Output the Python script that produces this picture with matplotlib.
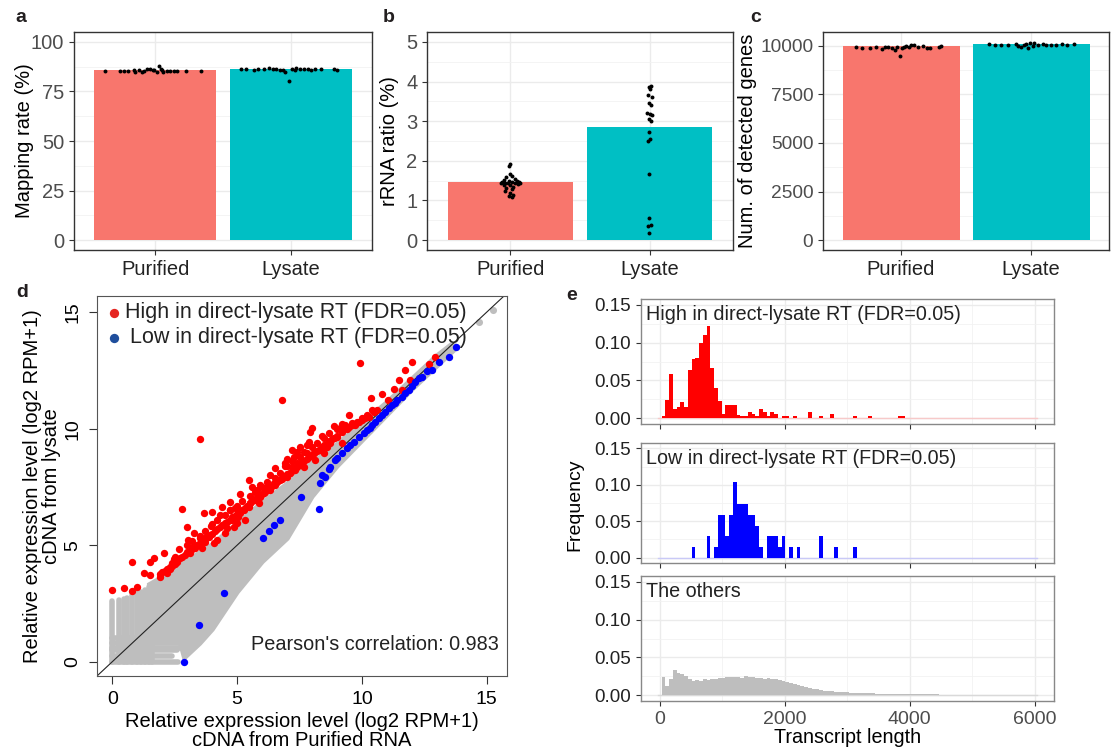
import matplotlib
matplotlib.use('Agg')
import matplotlib.pyplot as plt
from matplotlib.ticker import MultipleLocator, FormatStrFormatter
import numpy as np

plt.rcParams['font.family'] = ['Liberation Sans', 'DejaVu Sans']

# ---- panels a-c : per-sample values ----
groups = ['Purified', 'Lysate']
bar_cols = ['#F8766D', '#00BFC4']

map_bar = [85.8, 86.5]
map_pur_off = [-0.37, -0.26, -0.23, -0.20, -0.16, -0.15, -0.12, -0.10, -0.08, -0.06, -0.04, -0.02,
               -0.01, 0.01, 0.03, 0.04, 0.05, 0.06, 0.09, 0.11, 0.14, 0.16, 0.23, 0.34]
map_pur_val = [85.3, 85.3, 85.2, 85.4, 85.7, 84.8, 86.0, 85.0, 85.3, 86.2, 86.5, 85.7,
               86.0, 85.0, 88.0, 86.4, 85.7, 85.0, 85.3, 85.3, 85.2, 85.4, 85.3, 85.3]
map_lys_off = [-0.37, -0.33, -0.27, -0.24, -0.20, -0.16, -0.13, -0.11, -0.08, -0.06, -0.04, -0.01,
               0.01, 0.03, 0.04, 0.07, 0.10, 0.13, 0.15, 0.18, 0.22, 0.32, 0.34]
map_lys_val = [86.3, 86.5, 86.0, 86.1, 86.5, 86.6, 86.5, 86.1, 86.0, 85.6, 84.9, 80.1,
               86.5, 85.6, 86.8, 86.5, 86.5, 86.5, 86.0, 86.1, 86.5, 86.3, 86.0]

rrna_bar = [1.46, 2.86]
rrna_pur_off = [0.00, -0.01, 0.00, 0.01, -0.03, 0.03, -0.05, -0.01, 0.045, -0.06, 0.01, -0.04, 0.03,
                -0.02, 0.057, 0.00, -0.05, 0.02, -0.03, 0.01, -0.04, 0.00, 0.02, -0.01, 0.01, 0.06, -0.07, 0.07]
rrna_pur_val = [1.93, 1.87, 1.68, 1.62, 1.58, 1.55, 1.52, 1.50, 1.48, 1.47, 1.46, 1.45, 1.44,
                1.43, 1.42, 1.40, 1.38, 1.35, 1.32, 1.28, 1.25, 1.20, 1.15, 1.10, 1.08, 1.47, 1.45, 1.44]
rrna_lys_off = [0.012, -0.007, 0.005, -0.012, 0.017, -0.002, 0.012, -0.019, 0.005, 0.017,
                -0.002, 0.012, -0.007, 0.005, -0.012, -0.007, -0.007, 0.007, -0.012, -0.007]
rrna_lys_val = [3.88, 3.85, 3.82, 3.65, 3.62, 3.45, 3.40, 3.20, 3.18, 3.15,
                3.05, 3.00, 2.72, 2.55, 2.50, 1.68, 0.55, 0.38, 0.35, 0.17]

gene_bar = [9966, 10103]
gene_pur_off = [-0.345, -0.30, -0.24, -0.19, -0.15, -0.12, -0.10, -0.07, -0.05, -0.03, -0.01, 0.005,
                0.02, 0.04, 0.06, 0.08, 0.10, 0.13, 0.17, 0.20, 0.22, 0.29, 0.31]
gene_pur_val = [9930, 9880, 9900, 9950, 9850, 9960, 9920, 9870, 9780, 9950, 9500, 9880,
                9950, 10000, 9920, 10020, 10050, 9950, 9980, 9870, 9900, 9950, 9990]
gene_lys_off = [-0.32, -0.28, -0.23, -0.18, -0.115, -0.10, -0.077, -0.056, -0.04, -0.02, -0.005,
                0.013, 0.026, 0.05, 0.09, 0.115, 0.15, 0.19, 0.24, 0.28, 0.33]
gene_lys_val = [10070, 10060, 10050, 10040, 10080, 10000, 9950, 10030, 10100, 9870, 10120,
                10000, 10150, 10050, 10080, 10040, 10060, 10040, 10070, 10060, 10080]

# ---- panel d : scatter ----
red_x = [0.0, 0.47, 0.8, 1.0, 0.8, 1.27, 1.53, 1.53, 1.69, 1.93, 2.09, 2.2, 2.33, 2.4, 2.47, 2.67, 2.8, 3.0,
         3.04, 3.13, 3.24, 3.27, 3.51, 3.53, 3.6, 3.69, 3.73, 3.87, 3.96, 4.0, 4.07, 4.2, 4.4, 4.53, 4.6,
         4.71, 4.73, 4.8, 4.87, 5.0, 5.03, 5.13, 5.27, 5.33, 5.47, 5.47, 5.53, 5.67, 5.8, 5.87, 5.93, 6.07,
         6.2, 6.33, 6.47, 6.6, 6.8, 6.87, 6.93, 7.0, 7.13, 7.2, 7.2, 7.27, 7.33, 7.4, 7.53, 7.6, 7.67, 7.8,
         7.87, 7.93, 8.0, 8.07, 8.13, 8.33, 8.47, 8.6, 8.73, 8.87, 9.0, 9.13, 9.2, 9.33, 9.47, 9.6, 9.73,
         9.87, 9.93, 10.0, 10.13, 10.27, 10.36, 10.4, 10.47, 10.6, 11.03, 11.27, 11.6, 11.73, 11.91, 12.0,
         12.67, 12.93,
         1.9, 2.0, 2.1, 2.2, 2.3, 2.4, 2.5, 2.6, 2.7, 2.8, 2.9, 3.0, 3.1, 3.2, 3.3, 3.4, 3.5, 3.6, 3.7, 3.8,
         3.9, 4.0, 4.1, 4.2, 4.3, 4.4, 4.5, 4.6, 4.7, 4.8, 4.9, 5.0, 5.1, 5.2, 5.3, 5.4, 5.5, 5.6, 5.7, 5.8,
         5.9, 6.0, 6.1, 6.2, 6.3, 6.4, 6.5, 6.6, 6.7, 6.8, 6.9, 7.0, 7.1, 7.2, 7.3, 7.4, 7.5, 7.6, 7.7, 7.8,
         7.9, 8.0, 8.1, 8.2, 8.3, 8.4, 8.5, 8.6, 8.7, 8.8, 8.9, 9.0, 9.2, 9.4, 9.6, 9.8, 10.0, 10.2,
         2.5, 3.0, 3.5, 4.0, 4.5, 5.0, 5.5, 6.0, 6.5, 7.0, 7.5, 8.0, 8.5, 9.0,
         3.2, 3.7, 4.2, 4.7, 5.2, 5.7, 6.2, 6.7, 7.2, 7.7, 8.2, 8.7, 9.2,
         4.3, 5.1, 5.9, 6.5, 7.4, 8.4, 6.3, 7.0, 4.9, 5.6, 6.9, 7.8, 8.9, 9.5, 10.8, 11.5]
red_y = [3.1, 3.15, 3.03, 3.2, 4.26, 3.79, 3.72, 4.29, 4.46, 3.65, 4.65, 3.79, 4.0, 4.22, 4.39, 4.84, 6.55, 5.77,
         5.22, 4.65, 4.94, 5.51, 9.56, 5.29, 4.86, 6.37, 5.15, 5.36, 5.82, 6.44, 5.08, 5.22, 6.65, 5.51, 5.72,
         6.87, 6.51, 6.08, 5.79, 5.94, 6.22, 6.37, 6.51, 6.08, 7.8, 6.65, 6.8, 6.94, 7.37, 6.8, 7.08, 7.22,
         7.51, 7.37, 7.65, 7.8, 11.23, 7.94, 8.51, 7.94, 8.08, 9.08, 8.37, 8.8, 8.23, 8.51, 9.23, 8.65, 8.37, 8.94,
         9.44, 9.87, 10.01, 8.94, 8.65, 9.08, 8.94, 9.23, 9.37, 9.59, 9.66, 10.01, 9.37, 10.16, 10.09, 10.23, 10.16,
         10.3, 12.8, 10.37, 10.44, 10.52, 11.33, 10.8, 10.73, 10.8, 11.23, 11.69, 11.66, 12.52, 12.09, 12.85,
         12.76, 13.09,
         3.75, 3.85, 3.9, 4.0, 4.05, 4.1, 4.2, 4.3, 4.45, 4.5, 4.6, 4.7, 4.75, 4.85, 4.9, 5.0, 5.1, 5.15, 5.3, 5.35,
         5.45, 5.5, 5.6, 5.7, 5.8, 5.85, 5.95, 6.0, 6.1, 6.2, 6.25, 6.35, 6.45, 6.5, 6.6, 6.7, 6.8, 6.9, 6.95, 7.05,
         7.1, 7.2, 7.3, 7.35, 7.45, 7.55, 7.6, 7.7, 7.8, 7.85, 7.95, 8.05, 8.1, 8.2, 8.3, 8.35, 8.45, 8.55, 8.6, 8.7,
         8.8, 8.85, 8.95, 9.05, 9.1, 9.2, 9.3, 9.35, 9.45, 9.55, 9.6, 9.7, 9.85, 10.0, 10.15, 10.3, 10.45, 10.6,
         4.5, 5.0, 5.4, 5.9, 6.3, 6.7, 7.1, 7.5, 7.9, 8.4, 8.8, 9.2, 9.6, 10.0,
         5.2, 5.6, 6.1, 6.5, 6.9, 7.3, 7.7, 8.1, 8.6, 9.0, 9.4, 9.8, 10.2,
         6.3, 7.2, 7.6, 8.3, 9.0, 9.7, 8.0, 8.7, 6.6, 7.5, 8.4, 9.3, 10.1, 10.6, 11.5, 12.1]

blue_x = [2.87, 3.47, 4.47, 6.04, 6.27, 6.49, 6.71, 7.56, 8.27, 8.31, 8.4, 8.53, 8.67, 8.73, 8.93, 9.0, 9.2, 9.4,
          9.53, 9.67, 9.87, 10.07, 10.2, 10.33, 10.4, 10.53, 10.67, 10.8, 10.93, 11.07, 11.2, 11.33, 11.4, 11.6,
          11.73, 11.87, 12.0, 12.13, 12.27, 12.4, 12.6, 12.8, 13.07, 13.47, 13.77]
blue_y = [0.0, 1.57, 2.96, 5.32, 5.62, 5.87, 6.08, 7.08, 6.54, 7.68, 8.0, 7.94, 8.25, 8.37, 8.66, 8.73, 8.94, 9.16,
          9.3, 9.44, 9.66, 9.8, 9.94, 10.01, 10.16, 10.3, 10.44, 10.59, 10.73, 10.87, 11.02, 11.09, 11.23, 11.37,
          11.52, 11.66, 11.83, 12.02, 12.16, 12.23, 12.49, 12.52, 12.88, 13.09, 13.52]

grey_pts_x = [12.73, 14.67, 15.24]
grey_pts_y = [12.73, 14.56, 15.09]

# outline of the dense grey cloud of the other genes
cloud_x = [1.5, 1.5, 2.0, 3.0, 4.0, 5.0, 6.0, 7.0, 8.0, 9.0, 10.0, 11.0, 12.0, 13.0, 13.6, 13.8,
           13.0, 12.0, 11.0, 10.0, 9.0, 8.0, 7.5, 7.0, 6.0, 5.0, 4.5, 4.0, 3.5, 3.1, 2.9, 2.7, 1.5]
cloud_y = [1.0, 3.3, 3.6, 4.3, 5.0, 5.9, 6.8, 7.6, 8.5, 9.3, 10.2, 11.1, 12.1, 13.1, 13.6, 13.5,
           12.7, 11.7, 10.6, 9.5, 8.4, 7.1, 6.2, 5.3, 4.3, 3.0, 2.2, 1.4, 0.8, 0.4, 0.2, 1.0, 1.0]
vstripe_x = [0.0, 0.26, 0.49, 0.58, 0.81, 1.0, 1.17, 1.32, 1.46, 1.58]
vstripe_top = [2.6, 2.65, 2.7, 2.75, 2.85, 2.95, 3.0, 3.1, 3.2, 3.3]
hstripe_y = [0.0, 0.26, 0.49, 0.58, 0.81, 1.0]
hstripe_end = [2.65, 2.4, 2.6, 2.7, 2.8, 2.9]

# ---- panel e : length histograms (bin width 60, centres 0..6000) ----
hist_k_high = list(range(1, 32)) + [33, 34, 36, 40, 43, 46, 52, 56, 64, 65]
hist_f_high = [0.003, 0.024, 0.058, 0.012, 0.015, 0.021, 0.015, 0.064, 0.078, 0.080, 0.100, 0.110, 0.122,
               0.067, 0.040, 0.023, 0.006, 0.018, 0.018, 0.018, 0.005, 0.003, 0.003, 0.009, 0.006, 0.003,
               0.012, 0.009, 0.003, 0.009, 0.006, 0.003, 0.003, 0.003, 0.009, 0.003, 0.006, 0.003, 0.003,
               0.003, 0.003]
hist_k_low = [9, 13, 15, 16, 17, 18, 19, 20, 21, 22, 23, 24, 25, 26, 27, 29, 30, 31, 32, 33, 35, 37, 43, 47, 52]
hist_f_low = [0.015, 0.029, 0.015, 0.059, 0.059, 0.029, 0.059, 0.104, 0.074, 0.074, 0.074, 0.059, 0.059,
              0.044, 0.015, 0.029, 0.029, 0.029, 0.015, 0.029, 0.015, 0.015, 0.029, 0.015, 0.015]
hist_f_other = [0.0, 0.024, 0.012, 0.022, 0.034, 0.030, 0.028, 0.025, 0.022, 0.019, 0.020,
                0.019, 0.021, 0.020, 0.021, 0.022, 0.023, 0.0235, 0.024, 0.024, 0.024,
                0.024, 0.0235, 0.025, 0.024, 0.024, 0.023, 0.0235, 0.022, 0.0225, 0.0215,
                0.021, 0.020, 0.019, 0.018, 0.0165, 0.015, 0.0135, 0.0125, 0.011, 0.0098,
                0.0088, 0.008, 0.007, 0.0062, 0.0058, 0.0053, 0.0049, 0.0044, 0.004, 0.004,
                0.0035, 0.0033, 0.003, 0.003, 0.0028, 0.0026, 0.0025, 0.0023, 0.0022, 0.002,
                0.002, 0.0019, 0.0018, 0.0017, 0.0016, 0.0016, 0.0015, 0.0014, 0.0014, 0.0013,
                0.0012, 0.0012, 0.0011, 0.0011, 0.001, 0.001, 0.0009, 0.0009, 0.0009, 0.0008,
                0.0008, 0.0008, 0.0007, 0.0007, 0.0007, 0.0006, 0.0006, 0.0006, 0.0006, 0.0005,
                0.0005, 0.0005, 0.0005, 0.0005, 0.0005, 0.0005, 0.0005, 0.0005, 0.0005, 0.0005]
binw = 60

W, H = 1112, 755
fig = plt.figure(figsize=(W / 100, H / 100), dpi=100)


def px_axes(x0, y0, x1, y1):
    return fig.add_axes([x0 / W, 1 - y1 / H, (x1 - x0) / W, (y1 - y0) / H])


def gg_style(ax):
    ax.set_facecolor('white')
    for s in ax.spines.values():
        s.set_color('#333333')
        s.set_linewidth(1.0)
    ax.grid(True, which='major', color='#EBEBEB', lw=1.0, zorder=0)
    ax.grid(True, which='minor', color='#F2F2F2', lw=0.6, zorder=0)
    ax.set_axisbelow(True)
    ax.tick_params(colors='#333333', length=3.5, width=0.8)
    ax.tick_params(which='minor', length=0)


def bar_panel(ax, bars, pur, lys, ylim, ystep, ylabel, label_x, ysize=14.5):
    gg_style(ax)
    xs = np.arange(1, 3)
    ax.bar(xs, bars, width=0.9, color=bar_cols, zorder=2)
    ax.scatter(1 + np.array(pur[0]), pur[1], s=8, color='black', zorder=3, lw=0)
    ax.scatter(2 + np.array(lys[0]), lys[1], s=8, color='black', zorder=3, lw=0)
    ax.set_xlim(0.4, 2.6)
    ax.set_ylim(*ylim)
    ax.set_xticks(xs)
    ax.set_xticklabels(groups, fontsize=14.5, color='#222222')
    ax.yaxis.set_major_locator(MultipleLocator(ystep))
    ax.yaxis.set_minor_locator(MultipleLocator(ystep / 2))
    ax.tick_params(axis='y', labelsize=ysize, labelcolor='#4D4D4D')
    ax.set_ylabel(ylabel, fontsize=14.5)
    ax.yaxis.set_label_coords(label_x, 0.5)


axa = px_axes(74, 32, 372, 250)
bar_panel(axa, map_bar, (map_pur_off, map_pur_val), (map_lys_off, map_lys_val),
          (-5, 105), 25, 'Mapping rate (%)', -0.135)
axb = px_axes(427, 32, 733, 250)
bar_panel(axb, rrna_bar, (rrna_pur_off, rrna_pur_val), (rrna_lys_off, rrna_lys_val),
          (-0.25, 5.25), 1, 'rRNA ratio (%)', -0.09)
axc = px_axes(823, 32, 1109, 250)
bar_panel(axc, gene_bar, (gene_pur_off, gene_pur_val), (gene_lys_off, gene_lys_val),
          (-510, 10710), 2500, 'Num. of detected genes', -0.232, ysize=13.8)

# ---- d ----
axd = px_axes(97, 296, 507, 676)
grey = '#BEBEBE'
axd.fill(cloud_x, cloud_y, color=grey, lw=4, ec=grey, zorder=1)
for x, t in zip(vstripe_x, vstripe_top):
    axd.plot([x, x], [0, t], color=grey, lw=4, solid_capstyle='round', zorder=1)
for y, e in zip(hstripe_y, hstripe_end):
    axd.plot([0, e], [y, y], color=grey, lw=4, solid_capstyle='round', zorder=1)
axd.scatter(grey_pts_x, grey_pts_y, s=26, color=grey, lw=0, zorder=1)
axd.axline((0, 0), (1, 1), color='#222222', lw=0.8, zorder=2)
axd.scatter(red_x, red_y, s=28, color='#FF0000', lw=0, zorder=3)
axd.scatter(blue_x, blue_y, s=28, color='#0000FF', lw=0, zorder=3)
axd.set_xlim(-0.61, 15.81)
axd.set_ylim(-0.61, 15.69)
axd.set_xticks([0, 5, 10, 15])
axd.set_yticks([0, 5, 10, 15])
axd.tick_params(labelsize=14, length=6, width=0.8, color='#333333', pad=5)
plt.setp(axd.get_yticklabels(), rotation=90, va='center')
for s in axd.spines.values():
    s.set_color('#555555')
axd.set_xlabel('Relative expression level (log2 RPM+1)\ncDNA from Purified RNA',
               fontsize=14.5, linespacing=0.95, labelpad=3)
axd.set_ylabel('Relative expression level (log2 RPM+1)\ncDNA from lysate',
               fontsize=14.5, linespacing=0.95, labelpad=3)
axd.scatter([0.06], [14.98], s=45, color='#E52521', lw=0)
axd.scatter([0.06], [13.9], s=45, color='#1F4E9C', lw=0)
axd.text(0.5, 14.98, 'High in direct-lysate RT (FDR=0.05)', fontsize=15.5, va='center', color='#222222')
axd.text(0.73, 13.9, 'Low in direct-lysate RT (FDR=0.05)', fontsize=15.5, va='center', color='#222222')
axd.text(15.5, 0.75, "Pearson's correlation: 0.983", fontsize=14.3, ha='right', va='center',
         color='#222222')

# ---- e ----
centres = np.arange(0, 6001, binw)
hist_defs = [
    ((641, 299, 1054, 424), hist_k_high, hist_f_high, '#FF0000', '#F7C9C9',
     'High in direct-lysate RT (FDR=0.05)'),
    ((641, 443, 1054, 563), hist_k_low, hist_f_low, '#0000FF', '#C9C9F7',
     'Low in direct-lysate RT (FDR=0.05)'),
    ((641, 576, 1054, 701), list(range(len(hist_f_other))), hist_f_other, '#BEBEBE', '#D9D9D9',
     'The others'),
]
e_axes = []
for rect, ks, fs, col, light, title in hist_defs:
    ax = px_axes(*rect)
    gg_style(ax)
    ax.plot([centres[0] - binw / 2, centres[-1] + binw / 2], [0, 0], color=light, lw=1.0, zorder=2)
    ax.bar(centres[np.array(ks)], fs, width=binw, color=col, lw=0, zorder=3)
    ax.set_xlim(-300, 6310)
    ax.set_ylim(-0.0075, 0.1575)
    ax.xaxis.set_major_locator(MultipleLocator(2000))
    ax.xaxis.set_minor_locator(MultipleLocator(1000))
    ax.yaxis.set_major_locator(MultipleLocator(0.05))
    ax.yaxis.set_minor_locator(MultipleLocator(0.025))
    ax.yaxis.set_major_formatter(FormatStrFormatter('%.2f'))
    ax.tick_params(axis='y', labelsize=13.6, labelcolor='#222222')
    ax.tick_params(axis='x', labelsize=14, labelcolor='#4D4D4D')
    for s in ax.spines.values():
        s.set_color('#888888')
    ax.text(0.013, 0.95, title, transform=ax.transAxes, fontsize=14.2, va='top', ha='left',
            color='#222222')
    e_axes.append(ax)
for ax in e_axes[:2]:
    ax.tick_params(axis='x', labelbottom=False)
e_axes[2].set_xlabel('Transcript length', fontsize=14.2, labelpad=0)
fig.text(575 / W, 1 - 505 / H, 'Frequency', rotation=90, fontsize=14, ha='center', va='center')

# panel letters
for lab, x, y in [('a', 15, 17), ('b', 383, 17), ('c', 750, 17), ('d', 16, 292), ('e', 566, 295)]:
    fig.text(x / W, 1 - y / H, lab, fontsize=14, fontweight='bold', ha='left', va='center',
             color='#231F20')

fig.savefig('out.png', dpi=100)
